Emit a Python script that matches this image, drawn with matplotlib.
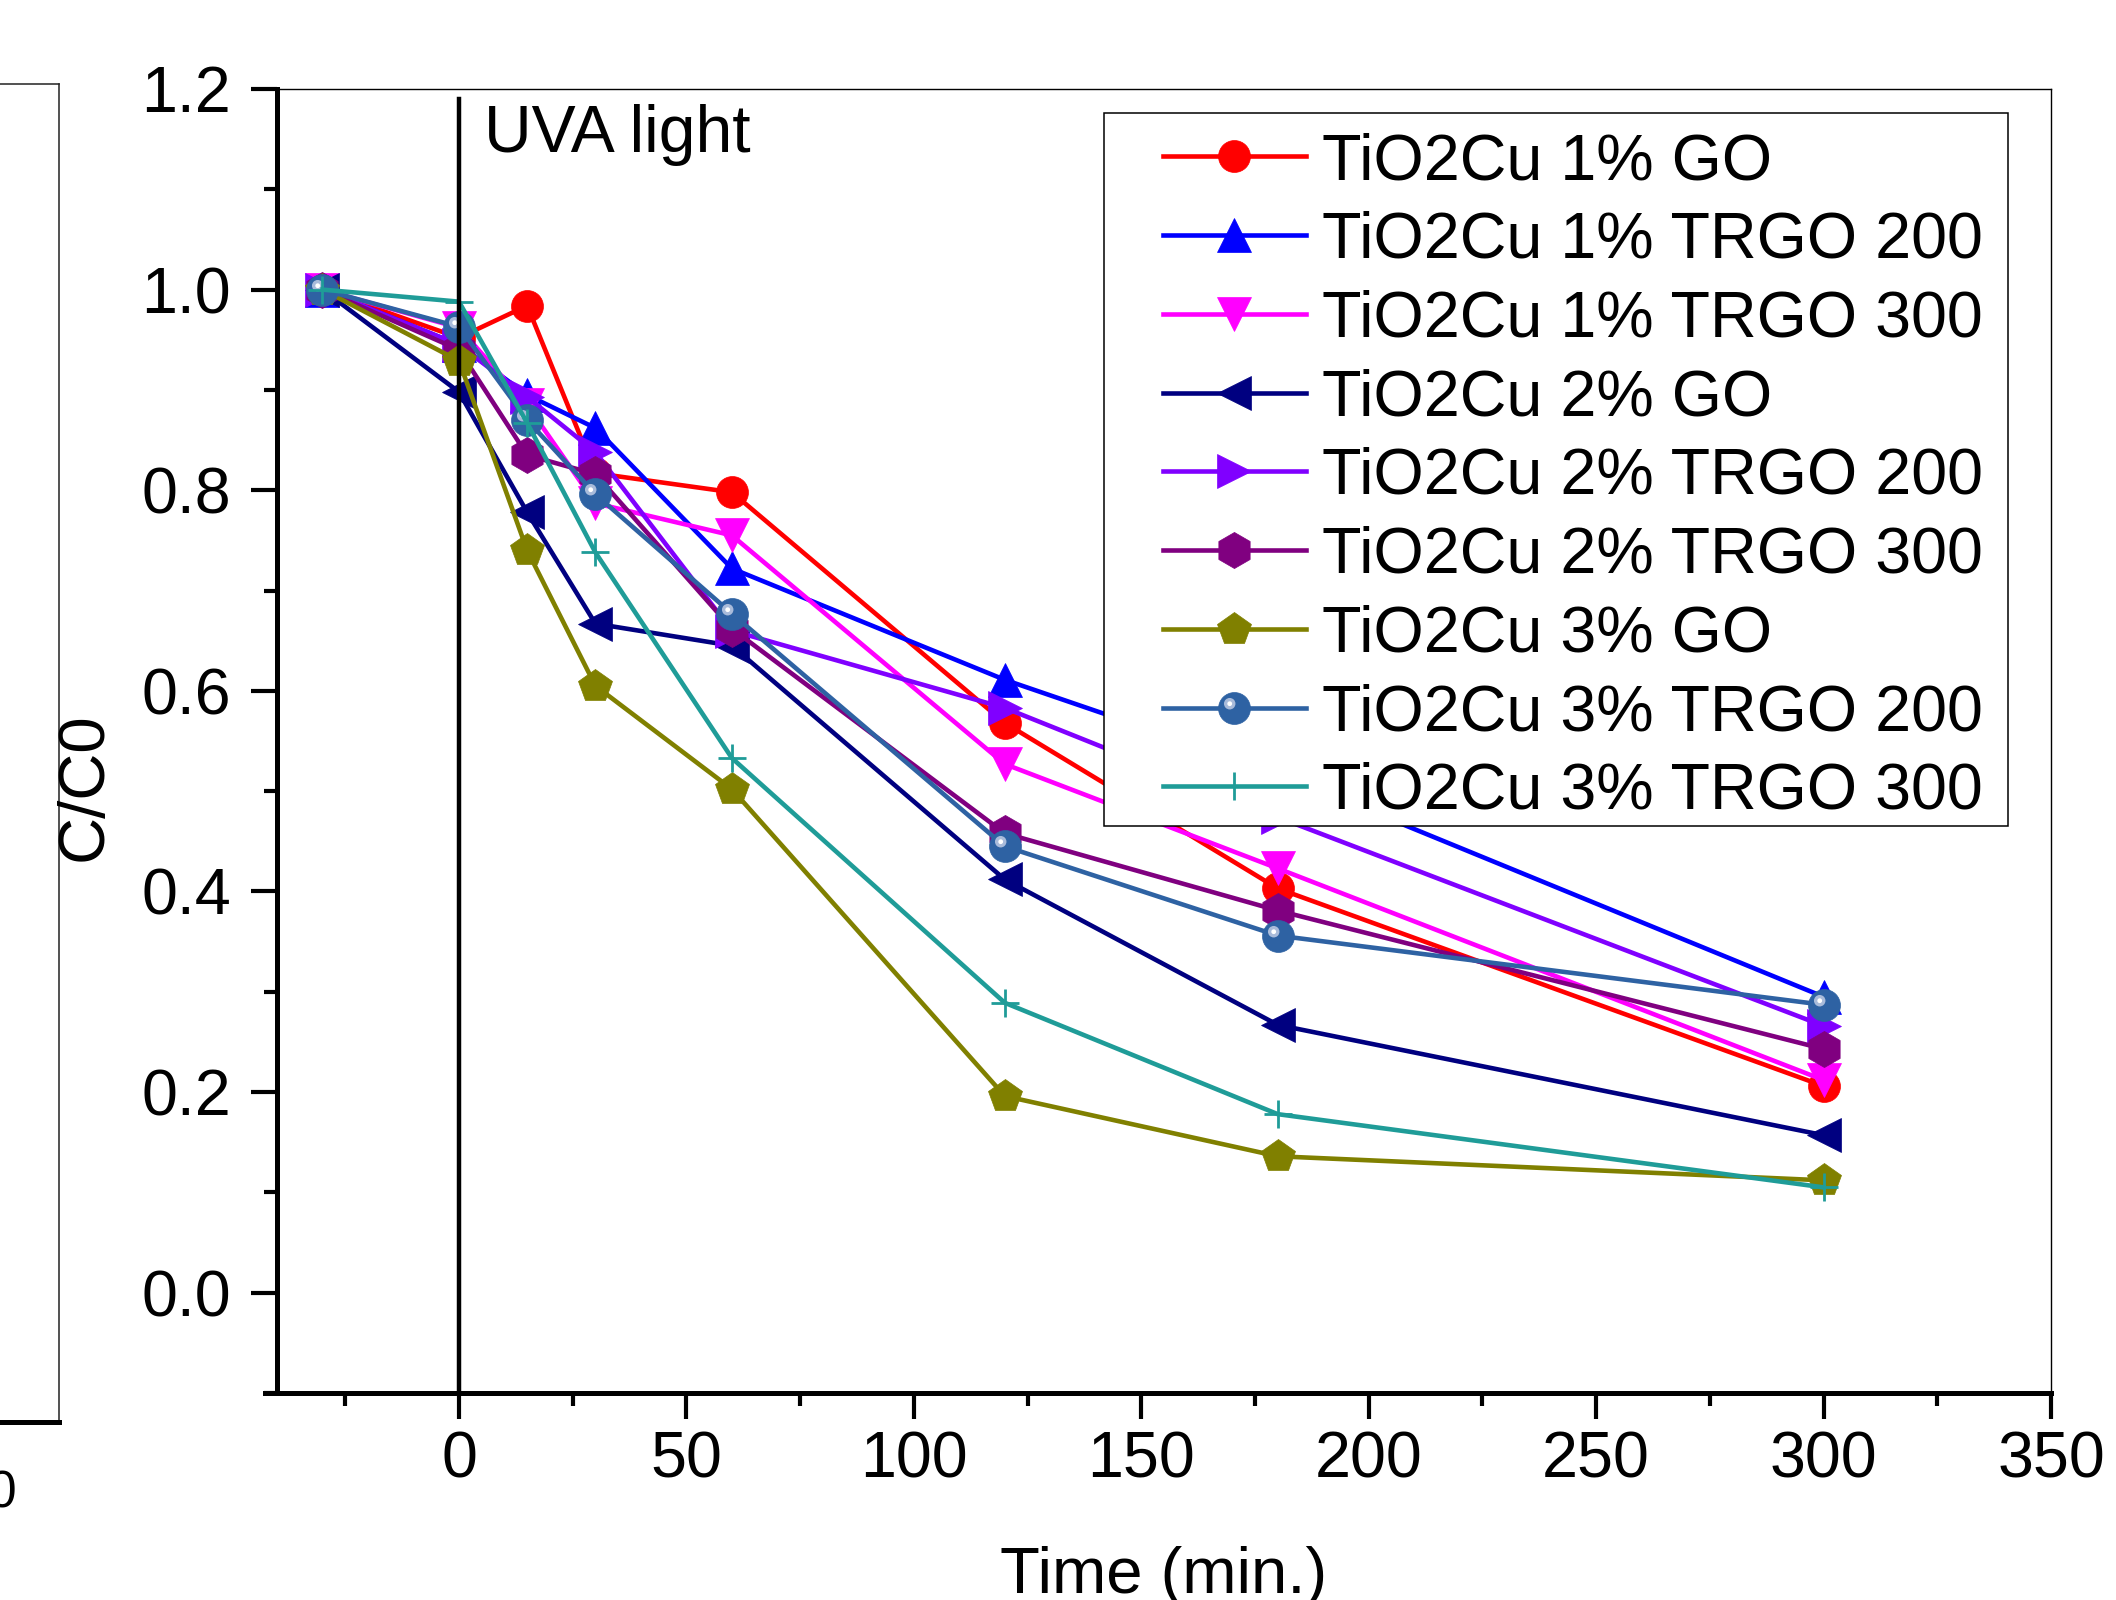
#!/usr/bin/env python3
"""
C/C0 vs time for the TiO2Cu / GO / TRGO photocatalysts (UVA light).
"""

import numpy as np
import matplotlib
matplotlib.use("Agg")
import matplotlib.pyplot as plt
from matplotlib.path import Path
from matplotlib.patches import Rectangle
from matplotlib.ticker import MultipleLocator
from matplotlib.legend_handler import HandlerTuple

plt.rcParams['font.family'] = ['Liberation Sans', 'DejaVu Sans']

# data
time = [-30, 0, 15, 30, 60, 120, 180, 300]

cu1_go = [1.0, 0.952, 0.984, 0.817, 0.798, 0.568, 0.403, 0.206]
cu1_trgo200 = [1.0, 0.945, 0.895, 0.862, 0.722, 0.611, 0.518, 0.295]
cu1_trgo300 = [1.0, 0.962, 0.885, 0.787, 0.755, 0.527, 0.423, 0.212]
cu2_go = [1.0, 0.898, 0.778, 0.667, 0.645, 0.412, 0.267, 0.157]
cu2_trgo200 = [1.0, 0.945, 0.893, 0.838, 0.660, 0.583, 0.474, 0.266]
cu2_trgo300 = [1.0, 0.940, 0.835, 0.816, 0.662, 0.458, 0.381, 0.243]
cu3_go = [1.0, 0.929, 0.740, 0.605, 0.502, 0.196, 0.136, 0.112]
cu3_trgo200 = [1.0, 0.963, 0.870, 0.796, 0.677, 0.445, 0.356, 0.287]
cu3_trgo300 = [1.0, 0.988, 0.867, 0.738, 0.533, 0.289, 0.178, 0.105]

labels = ["TiO2Cu 1% GO", "TiO2Cu 1% TRGO 200", "TiO2Cu 1% TRGO 300",
          "TiO2Cu 2% GO", "TiO2Cu 2% TRGO 200", "TiO2Cu 2% TRGO 300",
          "TiO2Cu 3% GO", "TiO2Cu 3% TRGO 200", "TiO2Cu 3% TRGO 300"]

x_ticks = [0, 50, 100, 150, 200, 250, 300, 350]
y_ticks = [0.0, 0.2, 0.4, 0.6, 0.8, 1.0, 1.2]

# (values, color, marker, markersize)
series = [
    (cu1_go, '#FF0000', 'o', 23),
    (cu1_trgo200, '#0000FF', '^', 25),
    (cu1_trgo300, '#FF00FF', 'v', 25),
    (cu2_go, '#000080', '<', 25),
    (cu2_trgo200, '#8000FF', '>', 25),
    (cu2_trgo300, '#800080', 'h', 26),
    (cu3_go, '#808000', 'p', 25),
    (cu3_trgo200, '#2E62A3', 'o', 23),
    (cu3_trgo300, '#1F9C98', '+', 20),
]


def highlight_marker(dx, dy, r):
    # small circle off-centre; the lone MOVETO at (1,1) keeps the scale equal to an 'o' marker
    circ = Path.circle((dx, dy), r)
    verts = np.vstack([[[1.0, 1.0]], circ.vertices])
    codes = np.concatenate([[Path.MOVETO], circ.codes])
    return Path(verts, codes)


W, H = 2116, 1600
fig = plt.figure(figsize=(W / 100, H / 100), dpi=100)

# piece of the neighbouring panel cut by the left edge
ax0 = fig.add_axes([-0.4, 1 - 1421.5 / H, 0.4 + 59 / W, (1421.5 - 84) / H])
ax0.set_xticks([])
ax0.set_yticks([])
ax0.spines['left'].set_visible(False)
for s in ('top', 'right'):
    ax0.spines[s].set_linewidth(1.1)
    ax0.spines[s].set_color('#222222')
ax0.spines['bottom'].set_linewidth(3.6)
fig.text(17 / W, 1 - 1507 / H, '0', fontsize=37, ha='right', va='baseline')

# main panel
ax = fig.add_axes([277 / W, 1 - 1393 / H, (2051 - 277) / W, (1393 - 89) / H])

LW = 3.3
handles = []
for i, (vals, color, marker, ms) in enumerate(series):
    if marker == '+':
        line, = ax.plot(time, vals, color=color, lw=LW, marker='+', ms=ms, mew=2,
                        zorder=2 + i * 0.01)
        handles.append(line)
    else:
        line, = ax.plot(time, vals, color=color, lw=LW, marker=marker, ms=ms,
                        mfc=color, mec=color, mew=0.5, zorder=2 + i * 0.01)
        if i == 7:
            # shiny sphere look
            ring, = ax.plot(time, vals, ls='none', marker=highlight_marker(-0.3, 0.3, 0.36),
                            ms=ms, mfc='#A9BBDA', mec='none', zorder=2 + i * 0.01 + 0.001)
            dot, = ax.plot(time, vals, ls='none', marker=highlight_marker(-0.3, 0.3, 0.15),
                           ms=ms, mfc='white', mec='none', zorder=2 + i * 0.01 + 0.002)
            handles.append((line, ring, dot))
        else:
            handles.append(line)

# UVA light switched on at t = 0
ax.axvline(0, ymin=0, ymax=(1.19 + 0.1) / 1.3, color='black', lw=3.2, zorder=3)
ax.text(5.5, 1.137, 'UVA light', fontsize=47.5, ha='left', va='baseline')

ax.set_xlim(-40, 350)
ax.set_ylim(-0.1, 1.2)
ax.set_xticks(x_ticks)
ax.set_yticks(y_ticks)
ax.set_yticklabels([f"{v:.1f}" for v in y_ticks])
ax.xaxis.set_minor_locator(MultipleLocator(25))
ax.yaxis.set_minor_locator(MultipleLocator(0.1))
ax.tick_params(which='major', length=19, width=3, direction='out', labelsize=46.5)
ax.tick_params(which='minor', length=9.5, width=3, direction='out')
ax.tick_params(axis='x', which='major', pad=8)
ax.tick_params(axis='y', which='major', pad=14)

for s in ('left', 'bottom'):
    ax.spines[s].set_linewidth(3.6)
for s in ('top', 'right'):
    ax.spines[s].set_linewidth(1.0)
ax.spines['bottom'].set_bounds(-42.6, 350)

ax.set_xlabel('Time (min.)', fontsize=47, va='top')
ax.xaxis.set_label_coords(0.5, -0.1174)
ax.set_ylabel('C/C0', fontsize=47)
ax.yaxis.set_label_coords(-0.0915, 0.4647)

# legend: white box drawn separately so the padding matches the original
frame = Rectangle((1104 / W, 1 - 826 / H), (2008 - 1104) / W, (826 - 113) / H,
                  transform=fig.transFigure, facecolor='white', edgecolor='black',
                  lw=1.1, zorder=4)
ax.add_artist(frame)
leg = ax.legend(handles, labels, loc='center left', bbox_to_anchor=(1163 / W, 1 - 477 / H),
                bbox_transform=fig.transFigure, frameon=False, fontsize=46.5,
                numpoints=1, handlelength=2.21, handletextpad=0.25, labelspacing=0.29,
                borderpad=0, borderaxespad=0,
                handler_map={tuple: HandlerTuple(ndivide=1, pad=0)})
leg.set_zorder(5)

fig.savefig('out.png', dpi=100)
